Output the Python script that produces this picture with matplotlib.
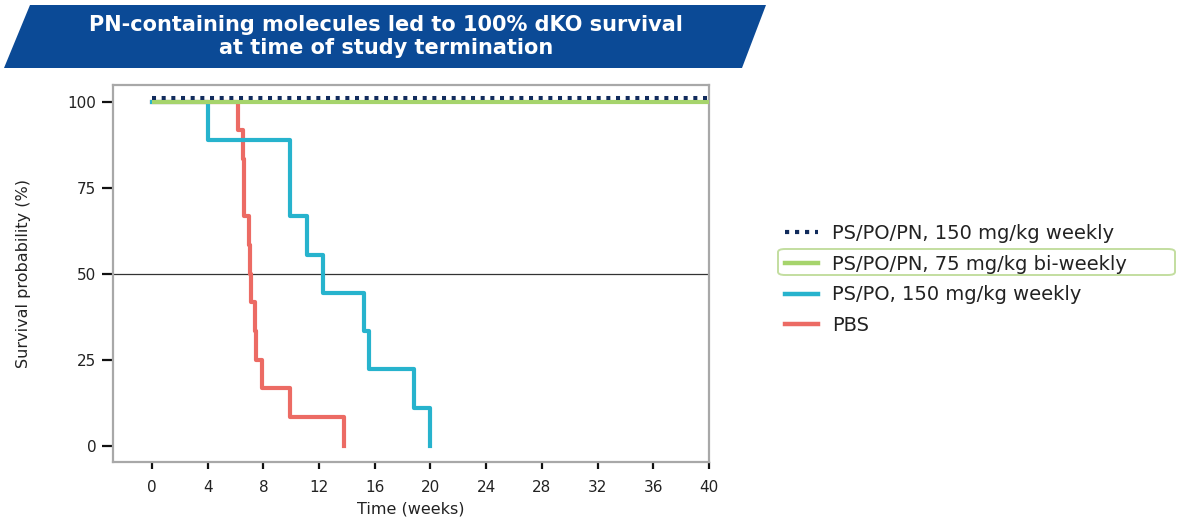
import numpy as np
import matplotlib
matplotlib.use("Agg")
import matplotlib.pyplot as plt
from matplotlib.lines import Line2D
from matplotlib.patches import Polygon, FancyBboxPatch
from matplotlib import transforms

# ---------------- data ----------------
title_lines = ["PN-containing molecules led to 100% dKO survival",
               "at time of study termination"]

pn150_t = [0, 40]
pn150_s = [100, 100]

pn75_t = [0, 40]
pn75_s = [100, 100]

pspo_t = [0, 4.0, 9.9, 11.1, 12.3, 15.2, 15.6, 18.8, 20.0]
pspo_s = [100, 88.9, 66.7, 55.6, 44.4, 33.3, 22.2, 11.1, 0]

pbs_t = [0, 6.2, 6.5, 6.6, 7.0, 7.05, 7.1, 7.4, 7.5, 7.9, 9.9, 13.8]
pbs_s = [100, 91.7, 83.3, 66.7, 58.3, 50, 41.7, 33.3, 25, 16.7, 8.3, 0]

labels = ["PS/PO/PN, 150 mg/kg weekly",
          "PS/PO/PN, 75 mg/kg bi-weekly",
          "PS/PO, 150 mg/kg weekly",
          "PBS"]

xticks = np.arange(0, 41, 4)
yticks = [0, 25, 50, 75, 100]

# ---------------- style ----------------
navy = "#112b5c"
green = "#a6d46c"
blue = "#27b3cd"
red = "#ec6b64"
banner = "#0b4a96"
frame = "#a8a8a8"

W, H = 1181, 522
fig = plt.figure(figsize=(W / 100, H / 100), dpi=100)
ax = fig.add_axes([113 / W, 1 - 462 / H, (709 - 113) / W, (462 - 85) / H])

lw = 3.0
ax.step(pbs_t, pbs_s, where="post", color=red, lw=lw, zorder=2)
ax.step(pspo_t, pspo_s, where="post", color=blue, lw=lw, zorder=3)
ax.plot(pn75_t, pn75_s, color=green, lw=lw, zorder=4, solid_capstyle="butt")
# dotted line sits a few pixels above the green one so both stay visible
up = transforms.offset_copy(ax.transData, fig=fig, x=0, y=4, units="dots")
ax.plot(pn150_t, pn150_s, color=navy, lw=2.9, ls=(0, (1, 1.4)),
        dash_capstyle="butt", transform=up, zorder=5)

ax.axhline(50, color="#333333", lw=0.9, zorder=1)

ax.set_xlim(-2.8, 40)
ax.set_ylim(-4.7, 104.9)
ax.set_xticks(xticks)
ax.set_yticks(yticks)
ax.tick_params(axis="both", direction="out", colors="#111111", labelcolor="#222222",
               labelsize=11, width=1.6)
ax.tick_params(axis="y", length=8, pad=4)
ax.tick_params(axis="x", length=5, pad=8)
for s in ax.spines.values():
    s.set_color(frame)
    s.set_linewidth(1.6)

ax.set_xlabel("Time (weeks)", fontsize=11.5, color="#222222", labelpad=5)
ax.set_ylabel("Survival probability (%)", fontsize=11.5, color="#222222", labelpad=26)

# legend
handles = [Line2D([], [], color=navy, lw=3.0, ls=(0, (1, 1.4)), dash_capstyle="butt"),
           Line2D([], [], color=green, lw=3.2),
           Line2D([], [], color=blue, lw=3.2),
           Line2D([], [], color=red, lw=3.2)]
fig.legend(handles, labels, loc="upper left", bbox_to_anchor=(785 / W, 1 - 224 / H),
           frameon=False, fontsize=14, handlelength=1.7, handletextpad=0.72,
           labelspacing=0.6, borderpad=0, borderaxespad=0, labelcolor="#222222")

# highlight box around the second legend entry
box = FancyBboxPatch((778 / W, 1 - 275 / H), (1175 - 778) / W, 26 / H,
                     boxstyle="round,pad=0,rounding_size=0.006",
                     transform=fig.transFigure, fill=False,
                     edgecolor="#c3dea0", lw=1.4)
fig.patches.append(box)

# title banner
pts = [(30, 5), (766, 5), (742, 68), (4, 68)]
poly = Polygon([(x / W, 1 - y / H) for x, y in pts], closed=True,
               transform=fig.transFigure, facecolor=banner, edgecolor="none")
fig.patches.append(poly)
fig.text(386 / W, 1 - 25 / H, title_lines[0], color="white", fontsize=15,
         fontweight="bold", ha="center", va="center")
fig.text(386 / W, 1 - 48 / H, title_lines[1], color="white", fontsize=15,
         fontweight="bold", ha="center", va="center")

fig.savefig("out.png", dpi=100)
